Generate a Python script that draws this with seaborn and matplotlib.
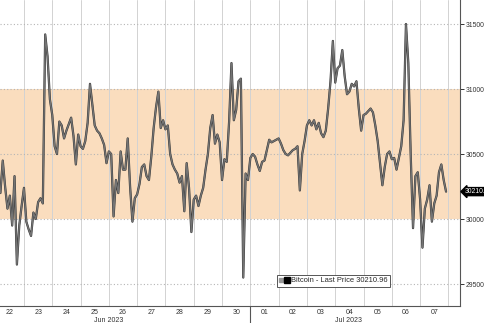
import numpy as np
import pandas as pd
import matplotlib
matplotlib.use("Agg")
import matplotlib.pyplot as plt
import matplotlib.dates as mdates
import matplotlib.patheffects as pe
import matplotlib.transforms as mtrans
from matplotlib.lines import Line2D
from matplotlib.legend_handler import HandlerTuple
import seaborn as sns

# ---- data (2-hourly Bitcoin last price) ----
series_start = "2023-06-22 04:00"
series_step = "2h"
price = [
    30200, 30450, 30250, 30080, 30180, 29950, 30330, 29650, 29950, 30100,
    30240, 29980, 29920, 29870, 30050, 30000, 30130, 30160, 30120, 31420,
    31250, 30920, 30800, 30560, 30500, 30750, 30720, 30620, 30680, 30730,
    30780, 30640, 30420, 30650, 30560, 30540, 30600, 30740, 31040, 30880,
    30720, 30680, 30660, 30620, 30570, 30430, 30520, 30500, 30020, 30300,
    30200, 30520, 30380, 30380, 30620, 30250, 29980, 30160, 30190, 30270,
    30400, 30420, 30330, 30300, 30480, 30700, 30860, 30980, 30700, 30760,
    30690, 30720, 30500, 30420, 30380, 30350, 30280, 30330, 30060, 30430,
    30240, 29900, 30150, 30180, 30100, 30180, 30240, 30380, 30500, 30700,
    30800, 30580, 30650, 30590, 30300, 30460, 30440, 30750, 31200, 30760,
    30840, 31060, 31080, 29550, 30350, 30300, 30470, 30500, 30480, 30420,
    30370, 30440, 30450, 30530, 30610, 30590, 30600, 30610, 30620, 30580,
    30530, 30500, 30490, 30510, 30530, 30540, 30560, 30220, 30500, 30600,
    30720, 30760, 30720, 30760, 30690, 30740, 30660, 30630, 30680, 30850,
    31060, 31370, 31050, 31160, 31180, 31300, 31100, 30960, 30980, 31040,
    31020, 31060, 30850, 30680, 30800, 30810, 30830, 30850, 30820, 30720,
    30600, 30430, 30260, 30400, 30500, 30520, 30460, 30470, 30380, 30470,
    30560, 30760, 31500, 31200, 30500, 29930, 30330, 30360, 30150, 29780,
    30080, 30150, 30260, 29980, 30120, 30180, 30360, 30420, 30300, 30211,
]
last_price = 30210.96
series_name = "Bitcoin - Last Price"
band_low, band_high = 30000, 31000
y_ticks = [29500, 30000, 30500, 31000, 31500]
month_labels = ["Jun 2023", "Jul 2023"]
month_label_pos = ["2023-06-26 00:00", "2023-07-04 11:00"]
month_break = "2023-07-01 00:00"
x_view = ["2023-06-22 03:40", "2023-07-08 09:50"]
y_view = [29331, 31685]

times = pd.date_range(series_start, periods=len(price), freq=series_step)
df = pd.DataFrame({"time": times, "price": price})

sns.set_theme(style="white")
plt.rcParams['font.family'] = ['Liberation Sans', 'DejaVu Sans']

fig = plt.figure(figsize=(4.85, 3.23), dpi=100)
ax = fig.add_axes([0, 17 / 323, 460 / 485, 306 / 323])
ax.set_facecolor("white")

ax.axhspan(band_low, band_high, color="#FADDBE", zorder=0.2, lw=0)

sns.lineplot(data=df, x="time", y="price", ax=ax, color="#747474", lw=1.0,
             zorder=3, legend=False,
             path_effects=[pe.Stroke(linewidth=1.6, foreground="#333333"), pe.Normal()])

ax.set_xlim(pd.Timestamp(x_view[0]), pd.Timestamp(x_view[1]))
ax.set_ylim(*y_view)

# x axis: day labels at noon, grid at midnight
ax.xaxis.set_major_locator(mdates.HourLocator(byhour=12))
ax.xaxis.set_major_formatter(mdates.DateFormatter("%d"))
ax.xaxis.set_minor_locator(mdates.DayLocator())
ax.tick_params(axis="x", which="both", length=0, labelsize=5, colors="#333333", pad=2.5)
ax.grid(axis="x", which="minor", color="#d2d2d2", lw=0.7)
ax.grid(axis="x", which="major", visible=False)

# y axis on right
ax.yaxis.tick_right()
ax.set_yticks(y_ticks)
ax.set_yticklabels([str(v) for v in y_ticks])
ax.tick_params(axis="y", which="major", length=3, width=0.7, direction="out",
               labelsize=4.9, colors="#333333", pad=1)
ax.grid(axis="y", which="major", color="#b5b5b5", lw=0.8, ls=(0, (1, 2)))
ax.set_axisbelow(True)

for s in ["top", "left"]:
    ax.spines[s].set_visible(False)
for s in ["right", "bottom"]:
    ax.spines[s].set_visible(True)
    ax.spines[s].set_color("#555555")
    ax.spines[s].set_linewidth(0.8)

ax.set_xlabel("")
ax.set_ylabel("")

# month labels and separator
xtr = ax.get_xaxis_transform()
for lab, pos in zip(month_labels, month_label_pos):
    ax.text(pd.Timestamp(pos), -0.047, lab, transform=xtr, ha="center", va="center",
            fontsize=5, color="#333333")
ax.axvline(pd.Timestamp(month_break), ymin=-0.06, ymax=0, color="#555555", lw=0.8,
           clip_on=False)

# last price tag (runs off the right edge as in the original)
ytr = mtrans.blended_transform_factory(ax.transAxes, ax.transData)
ax.text(1.011, last_price, f"{last_price:.2f}", transform=ytr, ha="left", va="center",
        fontsize=4.9, color="white",
        bbox=dict(boxstyle="larrow,pad=0.08", fc="black", ec="black"), clip_on=False)

# legend
h = (Line2D([], [], ls="none", marker="s", markersize=2.5, color="#9a9a9a"),
     Line2D([], [], ls="none", marker="s", markersize=4.5, color="black"))
leg = ax.legend([h], [f"{series_name} {last_price:.2f}"],
                handler_map={tuple: HandlerTuple(ndivide=None, pad=0.2)},
                loc="lower left", bbox_to_anchor=(0.602, 0.062), borderaxespad=0,
                fontsize=5.4, frameon=True, fancybox=False, framealpha=1,
                edgecolor="#555555", borderpad=0.35, handlelength=1.2,
                handletextpad=0.3)
leg.get_frame().set_linewidth(0.7)

fig.savefig("out.png", dpi=100)
